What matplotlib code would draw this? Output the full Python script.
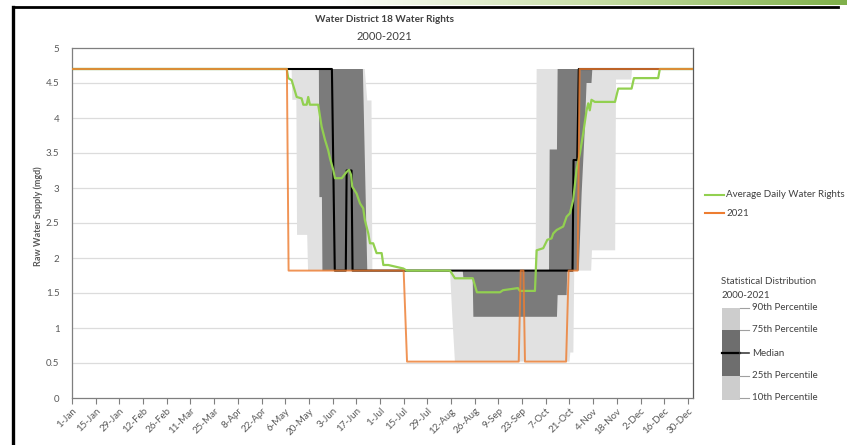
import numpy as np
import matplotlib
matplotlib.use('Agg')
import matplotlib.pyplot as plt
from matplotlib.patches import Rectangle
from matplotlib.lines import Line2D
from matplotlib.colors import LinearSegmentedColormap

plt.rcParams['font.family'] = ['Lato', 'DejaVu Sans']

W, H = 847, 445

# ---------------- data (day of year, 0 = 1-Jan, leap year) ----------------
tick_days = list(range(0, 365, 14))
tick_labels = ['1-Jan', '15-Jan', '29-Jan', '12-Feb', '26-Feb', '11-Mar', '25-Mar',
               '8-Apr', '22-Apr', '6-May', '20-May', '3-Jun', '17-Jun', '1-Jul',
               '15-Jul', '29-Jul', '12-Aug', '26-Aug', '9-Sep', '23-Sep', '7-Oct',
               '21-Oct', '4-Nov', '18-Nov', '2-Dec', '16-Dec', '30-Dec']
y_ticks = [0, 0.5, 1, 1.5, 2, 2.5, 3, 3.5, 4, 4.5, 5]

p90_days = [0, 173.0, 174.5, 177.0, 177.5, 274.0, 274.6, 367]
p90_vals = [4.7, 4.7, 4.25, 4.25, 1.82, 1.82, 4.7, 4.7]

p10_days = [0, 129.8, 130.2, 132.6, 133.0, 139.0, 139.5, 223.4, 224.8, 226.3,
            294.0, 294.5, 296.3, 296.8, 306.8, 307.3, 321.0, 321.5, 330.5, 331.0, 367]
p10_vals = [4.7, 4.7, 4.26, 4.26, 2.33, 2.33, 1.82, 1.82, 1.15, 0.52,
            0.52, 0.65, 0.65, 1.82, 1.82, 2.11, 2.11, 4.55, 4.55, 4.7, 4.7]

p75_days = [0, 171.9, 174.5, 281.9, 282.3, 286.6, 287.0, 367]
p75_vals = [4.7, 4.7, 1.82, 1.82, 3.55, 3.55, 4.7, 4.7]

p25_days = [0, 145.9, 146.2, 147.7, 148.0, 230.9, 231.3, 236.8, 237.2, 286.6, 287.0,
            292.3, 292.7, 299.5, 301.2, 303.1, 304.1, 307.0, 307.5, 367]
p25_vals = [4.7, 4.7, 2.87, 2.87, 1.82, 1.82, 1.72, 1.72, 1.16, 1.16, 1.47,
            1.47, 1.82, 1.82, 2.93, 3.87, 4.5, 4.5, 4.7, 4.7]

median_days = [0, 153.6, 155.3, 161.8, 162.3, 165.2, 165.8, 295.8, 296.4, 298.6, 299.5, 367]
median_vals = [4.7, 4.7, 1.82, 1.82, 3.25, 3.25, 1.82, 1.82, 3.4, 3.4, 4.7, 4.7]

avg_days = [0, 126.9, 127.8, 129.8, 131.8, 132.8, 135.7, 136.7, 138.7, 139.6, 140.6,
            145.5, 147.5, 149.5, 151.4, 152.5, 154.4, 155.4, 159.4, 162.3, 163.7,
            164.9, 165.6, 168.2, 170.2, 172.1, 173.1, 175.1, 176.1, 178.0, 180.0,
            183.0, 184.0, 186.9, 195.8, 197.8, 223.4, 226.3, 236.9, 239.3, 252.9,
            254.7, 263.5, 264.7, 273.6, 274.6, 278.5, 280.9, 283.4, 284.4, 286.4,
            290.3, 292.3, 294.3, 296.2, 298.2, 300.2, 302.1, 304.1, 305.1, 306.0,
            307.0, 309.0, 320.9, 322.8, 330.7, 332.1, 346.4, 347.4, 367]
avg_vals = [4.7, 4.7, 4.57, 4.54, 4.38, 4.30, 4.28, 4.19, 4.19, 4.30, 4.19,
            4.19, 3.88, 3.69, 3.54, 3.42, 3.26, 3.14, 3.14, 3.23, 3.26,
            3.19, 3.02, 2.92, 2.78, 2.71, 2.54, 2.35, 2.21, 2.21, 2.07,
            2.07, 1.90, 1.90, 1.85, 1.82, 1.82, 1.71, 1.71, 1.51, 1.51,
            1.54, 1.57, 1.53, 1.53, 2.11, 2.14, 2.26, 2.28, 2.35, 2.40,
            2.45, 2.59, 2.64, 2.83, 3.26, 3.50, 3.78, 4.11, 4.21, 4.11,
            4.26, 4.23, 4.23, 4.42, 4.42, 4.57, 4.57, 4.7, 4.7]

y2021_days = [0, 127.0, 128.0, 196.0, 198.0, 264.0, 265.2, 266.8, 267.7,
              292.0, 293.5, 298.8, 300.0, 367]
y2021_vals = [4.7, 4.7, 1.82, 1.82, 0.52, 0.52, 1.82, 1.82, 0.52,
              0.52, 1.82, 1.82, 4.7, 4.7]

# ---------------- figure ----------------
fig = plt.figure(figsize=(W / 100, H / 100), dpi=100)
fig.patch.set_facecolor('white')

x0, x1, yt, yb = 72, 693, 48, 398
ax = fig.add_axes([x0 / W, 1 - yb / H, (x1 - x0) / W, (yb - yt) / H])
ax.set_xlim(0, 367)
ax.set_ylim(0, 5)

LIGHT = '#E1E1E1'
DARK = '#7B7B7B'
GREEN = '#92D050'
ORANGE = '#ED7D31'

for v in y_ticks[1:-1]:
    ax.axhline(v, color='#DCDCDC', lw=0.9, zorder=0)

ax.fill(np.concatenate([p90_days, p10_days[::-1]]),
        np.concatenate([p90_vals, p10_vals[::-1]]),
        color=LIGHT, lw=0, zorder=1)
ax.fill(np.concatenate([p75_days, p25_days[::-1]]),
        np.concatenate([p75_vals, p25_vals[::-1]]),
        color=DARK, lw=0, zorder=2)
ax.plot(median_days, median_vals, color='black', lw=1.5, zorder=3)
ax.plot(avg_days, avg_vals, color=GREEN, lw=1.6, zorder=4)
ax.plot(y2021_days, y2021_vals, color=ORANGE, lw=1.4, alpha=0.82, zorder=5)

ax.set_xticks(tick_days)
ax.set_xticklabels(tick_labels, rotation=45, ha='right', rotation_mode='anchor',
                   fontsize=7, color='#595959')
ax.set_yticks(y_ticks)
ax.set_yticklabels([f'{v:g}' for v in y_ticks], fontsize=7, color='#595959')
ax.tick_params(axis='x', length=4, width=0.8, color='#7F7F7F', pad=2)
ax.tick_params(axis='y', length=0, pad=9)
for s in ax.spines.values():
    s.set_color('#7F7F7F')
    s.set_linewidth(0.9)
ax.spines['right'].set_color('#5A5A5A')

fig.text(38 / W, 1 - 216 / H, 'Raw Water Supply (mgd)', rotation=90, ha='center',
         va='center', fontsize=6.5, fontweight='bold', color='#595959')
fig.text(384 / W, 1 - 20 / H, 'Water District 18 Water Rights', ha='center',
         va='center', fontsize=7.2, fontweight='bold', color='#404040')
fig.text(384 / W, 1 - 37 / H, '2000-2021', ha='center', va='center',
         fontsize=8, color='#404040')


def F(x, y):
    return x / W, 1 - y / H


# series legend
for yy, col, lab in [(195, GREEN, 'Average Daily Water Rights'), (213, ORANGE, '2021')]:
    (ax_, ay_), (bx_, by_) = F(705, yy), F(724, yy)
    fig.add_artist(Line2D([ax_, bx_], [ay_, by_], transform=fig.transFigure,
                          color=col, lw=1.5))
    tx, ty = F(726, yy)
    fig.text(tx, ty, lab, ha='left', va='center', fontsize=7, color='#404040')

# statistical distribution legend
fig.text(*F(721, 282), 'Statistical Distribution', ha='left', va='center',
         fontsize=7, color='#404040')
fig.text(*F(721, 296), '2000-2021', ha='left', va='center', fontsize=7, color='#404040')

bx0, bx1 = 722, 740
segs = [(308, 330, '#CDCDCD'), (330, 376, '#6E6E6E'), (376, 400, '#CDCDCD')]
for top, bot, col in segs:
    fx, fy = F(bx0, bot)
    fig.add_artist(Rectangle((fx, fy), (bx1 - bx0) / W, (bot - top) / H,
                             transform=fig.transFigure, facecolor=col, edgecolor='none'))
fig.add_artist(Line2D([bx0 / W, bx1 / W], [1 - 353 / H] * 2, transform=fig.transFigure,
                      color='black', lw=1.6))
for yy, lab in [(308, '90th Percentile'), (330, '75th Percentile'), (353, 'Median'),
                (376, '25th Percentile'), (398, '10th Percentile')]:
    fig.add_artist(Line2D([bx1 / W, 749 / W], [1 - yy / H] * 2, transform=fig.transFigure,
                          color='#404040' if lab == 'Median' else '#A0A0A0',
                          lw=1.2 if lab == 'Median' else 0.8))
    fig.text(*F(752, yy), lab, ha='left', va='center', fontsize=7, color='#404040')

# document frame
fig.add_artist(Line2D([13 / W, 13 / W], [0, 1 - 7 / H], transform=fig.transFigure,
                      color='black', lw=2.4))
fig.add_artist(Line2D([13 / W, 838 / W], [1 - 7 / H] * 2, transform=fig.transFigure,
                      color='black', lw=2.0))
gax = fig.add_axes([330 / W, 1 - 5 / H, (W - 330) / W, 5 / H])
cmap = LinearSegmentedColormap.from_list('g', ['#FFFFFF', '#C9DFA8', '#7FB04A'])
gax.imshow(np.linspace(0, 1, 256)[None, :], aspect='auto', cmap=cmap)
gax.axis('off')

fig.savefig('out.png', dpi=100)
